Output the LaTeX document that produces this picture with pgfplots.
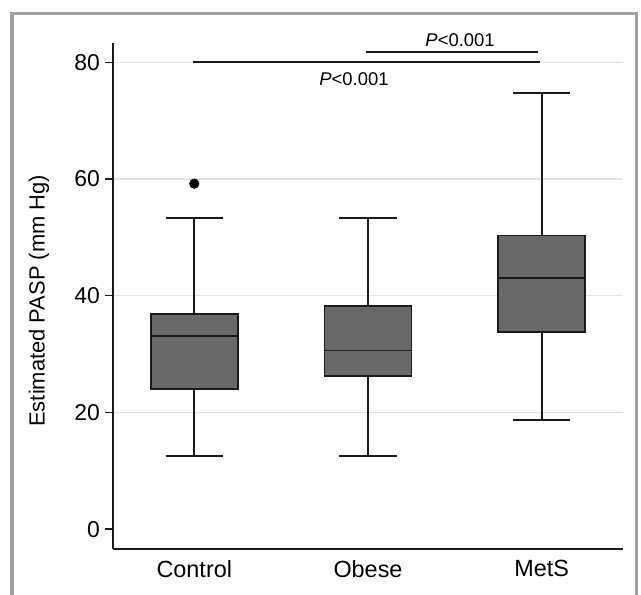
\documentclass[border=0pt]{standalone}
\usepackage{fontspec}
\setmainfont{Liberation Sans}
\usepackage{pgfplots}
\pgfplotsset{compat=1.18}
\usepgfplotslibrary{statistics}
\definecolor{boxgray}{HTML}{686868}
\definecolor{framegray}{HTML}{A0A0A0}
\definecolor{gridgray}{HTML}{E2E2E2}
\definecolor{ink}{HTML}{1A1A1A}
\begin{document}
\begin{tikzpicture}
\useasboundingbox (0,0) rectangle (641bp,-595bp);
\draw[framegray, line width=3.6bp] (11.8bp,-595bp) -- (11.8bp,-13.4bp) -- (636.4bp,-13.4bp) -- (636.4bp,-595bp);
\begin{axis}[
  at={(113bp,-549bp)}, anchor=south west,
  width=510bp, height=506bp, scale only axis,
  xmin=-0.468, xmax=2.468, ymin=-3.4, ymax=83.3,
  axis x line*=bottom, axis y line*=left,
  every non boxed x axis/.append style={x axis line style=-},
  every non boxed y axis/.append style={y axis line style=-},
  axis line style={ink, line width=1.5bp},
  clip=false,
  xtick={0,1,2}, xticklabels={Control,Obese,MetS},
  x tick style={draw=none}, xtick align=inside,
  xticklabel style={inner sep=0pt, yshift=-11bp, font=\fontsize{23.5}{26}\selectfont, text=black},
  ytick={20,40,60,80}, extra y ticks={0}, extra y tick style={grid=none},
  ymajorgrids, grid style={gridgray, line width=1.2bp},
  ytick align=outside, major tick length=8bp,
  y tick style={ink, line width=1.4bp},
  yticklabel style={inner sep=0pt, xshift=-5bp, font=\fontsize{23}{26}\selectfont, text=black},
  /pgf/number format/assume math mode=true,
  ylabel={Estimated PASP (mm Hg)},
  ylabel style={at={(axis description cs:-0.145,0.4905)}, anchor=center, font=\fontsize{22}{26}\selectfont, text=black},
  boxplot/draw direction=y,
  boxplot/every box/.style={draw=ink, fill=boxgray, line width=1.8bp},
  boxplot/every median/.style={draw=ink, line width=1.8bp},
  boxplot/every whisker/.style={draw=ink, line width=1.8bp},
]
\addplot+[boxplot prepared={draw position=0, lower whisker=12.6, lower quartile=24.0, median=33.1, upper quartile=36.8, upper whisker=53.3, box extend=0.5, whisker extend=0.33},
  solid, draw=ink, line width=1.8bp, fill=boxgray, mark=*, mark size=4.8bp, mark options={solid, fill=black, draw=black, line width=0.5bp}]
  table[row sep=\\, y index=0] {59.2\\};
\addplot+[boxplot prepared={draw position=1, lower whisker=12.6, lower quartile=26.3, median=30.6, upper quartile=38.2, upper whisker=53.3, box extend=0.5, whisker extend=0.33},
  solid, draw=ink, line width=1.8bp, fill=boxgray] coordinates {};
\addplot+[boxplot prepared={draw position=2, lower whisker=18.7, lower quartile=33.8, median=43.1, upper quartile=50.3, upper whisker=74.7, box extend=0.5, whisker extend=0.33},
  solid, draw=ink, line width=1.8bp, fill=boxgray] coordinates {};
\draw[ink, line width=1.6bp] (axis cs:-0.008,80) -- (axis cs:1.99,80);
\draw[ink, line width=1.6bp] (axis cs:0.988,81.75) -- (axis cs:1.98,81.75);
\node[anchor=base, inner sep=0pt, font=\fontsize{18.5}{22}\selectfont] at (axis cs:0.919,76.0) {\textit{P}<0.001};
\node[anchor=base, inner sep=0pt, font=\fontsize{18.5}{22}\selectfont] at (axis cs:1.53,82.7) {\textit{P}<0.001};
\end{axis}
\end{tikzpicture}
\end{document}
